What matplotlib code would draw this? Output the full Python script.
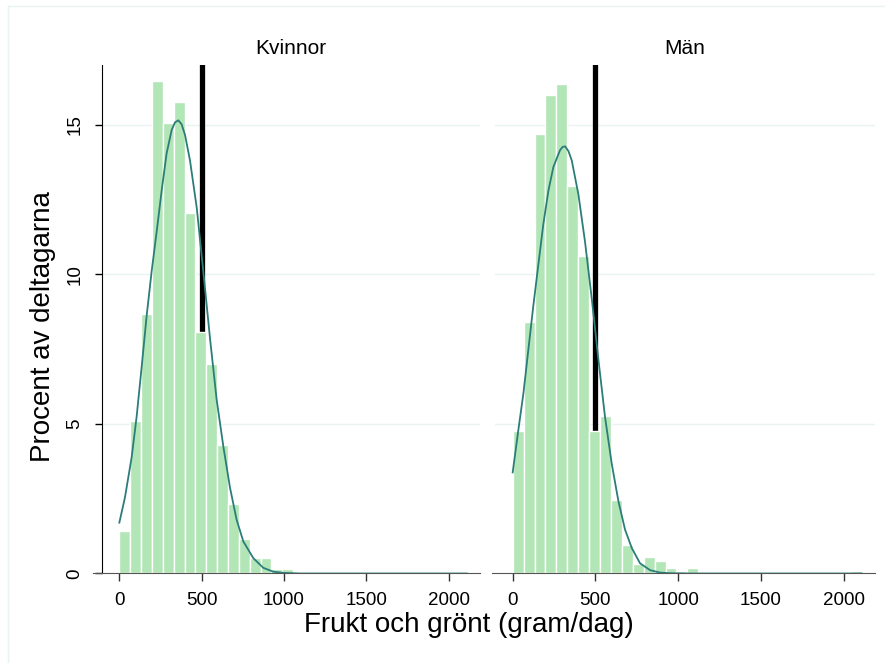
import numpy as np
import matplotlib
matplotlib.use("Agg")
import matplotlib.pyplot as plt
from matplotlib.lines import Line2D

plt.rcParams['font.family'] = ['Liberation Sans', 'DejaVu Sans']

# histogram bins (gram/dag), same bins in both panels
bin_start = 0
bin_width = 66

panels = ["Kvinnor", "Män"]

# percent per bin
kvinnor_pct = [1.41, 5.10, 8.68, 16.45, 15.05, 15.75, 12.05, 8.08, 7.0, 4.3,
               2.33, 1.15, 0.53, 0.53, 0.16, 0.16, 0.04, 0.0, 0.04]
man_pct = [4.75, 8.4, 14.7, 16.0, 16.35, 12.95, 10.6, 4.75, 5.25, 2.45,
           0.95, 0.33, 0.56, 0.43, 0.18, 0.07, 0.18, 0, 0, 0,
           0, 0, 0, 0, 0, 0, 0, 0, 0, 0,
           0, 0.08]

# overlaid density curves
kvinnor_curve_x = [0, 34, 75, 105, 136, 166, 196, 227, 257, 287, 318, 338, 358,
                   378, 399, 429, 470, 510, 551, 591, 632, 672, 712, 753, 814,
                   874, 935, 1000, 1100, 2110]
kvinnor_curve_y = [1.7, 2.54, 3.89, 5.24, 6.93, 8.62, 10.09, 11.44, 12.8, 14.04,
                   14.83, 15.08, 15.15, 15.02, 14.66, 13.81, 12.23, 10.09, 7.84,
                   5.81, 4.23, 2.87, 1.80, 1.07, 0.51, 0.19, 0.06, 0.02, 0.0, 0.0]
man_curve_x = [0, 34, 65, 95, 125, 155, 185, 216, 246, 286, 302, 317, 337, 357,
               397, 437, 478, 518, 558, 599, 639, 679, 720, 770, 831, 891, 950,
               1050, 2110]
man_curve_y = [3.38, 4.79, 6.03, 7.50, 8.96, 10.32, 11.67, 12.80, 13.59, 14.15,
               14.26, 14.28, 14.12, 13.81, 12.68, 11.10, 9.19, 7.16, 5.24, 3.66,
               2.42, 1.47, 0.85, 0.34, 0.11, 0.03, 0.01, 0.0, 0.0]

ref_line = 500
xticks = [0, 500, 1000, 1500, 2000]
yticks = [0, 5, 10, 15]

bar_color = "#b2e6b6"
curve_color = "#2b7d79"
grid_color = "#eaf3f3"

fig = plt.figure(figsize=(8.93, 6.63), dpi=100)

ax_l = fig.add_axes([0.1139, 0.135, 0.4236, 0.767])
ax_r = fig.add_axes([0.5543, 0.135, 0.4255, 0.767])

data = [(ax_l, kvinnor_pct, kvinnor_curve_x, kvinnor_curve_y),
        (ax_r, man_pct, man_curve_x, man_curve_y)]

for i, (ax, pct, cx, cy) in enumerate(data):
    edges = bin_start + bin_width * np.arange(len(pct))
    ax.bar(edges, pct, width=bin_width, align='edge', color=bar_color,
           edgecolor='white', linewidth=1.0, zorder=2)
    ax.plot(cx, cy, color=curve_color, lw=1.3, zorder=3)
    ax.axvline(ref_line, color='black', lw=3.8, zorder=1)

    ax.set_xlim(-107, 2190)
    ax.set_ylim(0, 17)
    ax.set_xticks(xticks)
    ax.set_yticks(yticks)
    for y in yticks[1:]:
        ax.axhline(y, color=grid_color, lw=1.0, zorder=0)

    ax.set_title(panels[i], fontsize=15, pad=8)
    for s in ['top', 'right']:
        ax.spines[s].set_visible(False)
    ax.spines['bottom'].set_color('#555555')
    ax.tick_params(axis='x', direction='out', length=6, width=1,
                   color='#333333', labelsize=13.5, pad=7)
    if i == 0:
        ax.spines['left'].set_color('black')
        ax.tick_params(axis='y', direction='out', length=5, width=1,
                       labelsize=13.5, pad=8)
        for lab in ax.get_yticklabels():
            lab.set_rotation(90)
            lab.set_va('center')
        ax.spines['bottom'].set_bounds(-157, 2190)
    else:
        ax.spines['left'].set_visible(False)
        ax.tick_params(axis='y', left=False, labelleft=False)
        ax.spines['bottom'].set_bounds(-125, 2190)

fig.text(0.525, 0.057, "Frukt och grönt (gram/dag)", ha='center', va='center',
         fontsize=20)
fig.text(0.0476, 0.508, "Procent av deltagarna", ha='center', va='center',
         rotation=90, fontsize=20)

# faint outer frame at top and left
fig.add_artist(Line2D([0.009, 0.99], [0.991, 0.991], transform=fig.transFigure,
                      color=grid_color, lw=1))
fig.add_artist(Line2D([0.009, 0.009], [0.0, 0.991], transform=fig.transFigure,
                      color=grid_color, lw=1))

fig.savefig("out.png", dpi=100)
